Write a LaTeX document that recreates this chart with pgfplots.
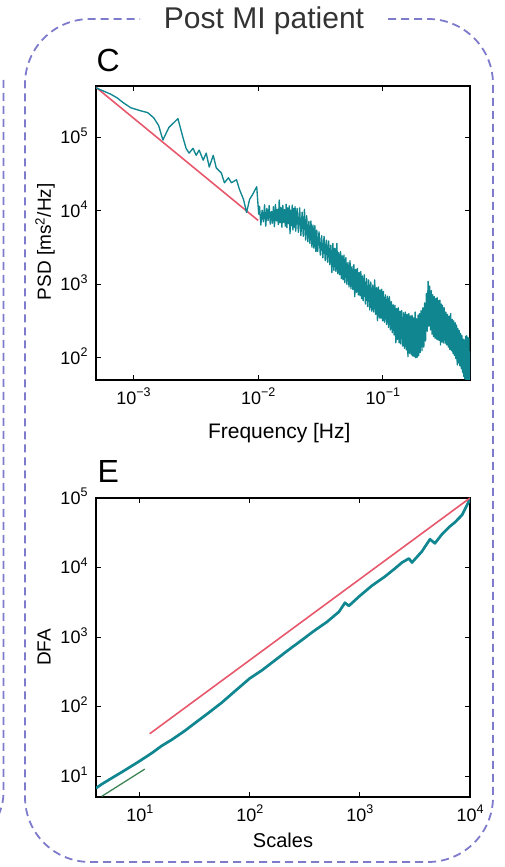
\documentclass[border=0pt]{standalone}
\usepackage{pgfplots}
\pgfplotsset{compat=1.18}
\usepackage{fontspec}
\setmainfont{Liberation Sans}
\definecolor{tealc}{RGB}{16,134,144}
\definecolor{redc}{RGB}{232,88,108}
\definecolor{greenc}{RGB}{62,132,86}
\definecolor{lav}{RGB}{126,122,204}
\newcommand{\tl}[1]{10\smash{\raisebox{0.4em}{\fontsize{12.5}{12.5}\selectfont #1}}}
\pgfplotsset{
  myax/.style={
    scale only axis, width=374pt,
    xminorticks=false, yminorticks=false,
    tick align=inside, major tick length=5pt,
    axis line style={line width=2pt},
    major tick style={black, line width=0.9pt},
    ticklabel style={font=\fontsize{18}{20}\selectfont},
    xticklabel style={yshift=-8pt},
    yticklabel style={xshift=-5pt},
    xlabel style={font=\fontsize{21}{24}\selectfont, anchor=center},
    ylabel style={font=\fontsize{19}{22}\selectfont, anchor=center},
  }
}
\begin{document}
\begin{tikzpicture}[x=1pt,y=1pt]
\useasboundingbox (0,0) rectangle (504,867);
% dashed frames
\draw[lav, line width=1.8pt, dash pattern=on 8pt off 5pt, rounded corners=65pt]
  (388,848) -- (493,848) -- (493,5) -- (25,5) -- (25,848) -- (140,848);
\draw[lav, line width=1.8pt, dash pattern=on 8pt off 5pt]
  (3.5,787) -- (3.5,75) to[out=-90,in=70] (-6,40);
\node[anchor=base, font=\fontsize{30}{34}\selectfont, text=black!80] at (264,838) {Post MI patient};
\node[anchor=base west, font=\fontsize{32}{36}\selectfont] at (93,795) {C};
\node[anchor=base west, font=\fontsize{32}{36}\selectfont] at (94,384) {E};

% ---------- PSD ----------
\begin{loglogaxis}[myax, at={(96pt,487pt)}, anchor=south west, height=294pt,
  xmin=5e-4, xmax=0.5, ymin=50, ymax=5e5,
  xtick={1e-3,1e-2,1e-1}, xticklabels={\tl{−3},\tl{−2},\tl{−1}},
  ytick={1e2,1e3,1e4,1e5}, yticklabels={\tl{2},\tl{3},\tl{4},\tl{5}},
  xlabel={Frequency [Hz]}, ylabel={PSD [ms\textsuperscript{2}/Hz]},
  xlabel style={at={(axis description cs:0.49,-0.18)}},
  ylabel style={at={(axis description cs:-0.136,0.47)}},
]
\addplot[redc, line width=1.6pt] coordinates {(5e-4,4.8e5) (1e-2,7.4e3)};
\addplot[tealc, line width=1.35pt, line join=round] coordinates {
(5.0e-4,4.8e5) (5.1e-4,4.65e5) (6.5e-4,3.9e5) (7.4e-4,3.44e5) (8.3e-4,2.95e5)
(9.5e-4,2.53e5) (1.14e-3,2.30e5) (1.30e-3,2.17e5) (1.45e-3,1.85e5) (1.59e-3,1.45e5)
(1.72e-3,9.2e4) (1.92e-3,1.36e5) (2.27e-3,1.80e5) (2.49e-3,1.0e5) (2.64e-3,7.1e4)
(2.79e-3,6.1e4) (3.0e-3,7.1e4) (3.18e-3,5.7e4) (3.36e-3,6.7e4) (3.62e-3,4.9e4)
(3.83e-3,6.1e4) (4.05e-3,3.95e4) (4.36e-3,5.7e4) (4.61e-3,3.84e4) (5.06e-3,3.29e4)
(5.36e-3,2.41e4) (5.77e-3,2.82e4) (6.10e-3,2.41e4) (6.70e-3,2.65e4) (7.08e-3,1.95e4)
(7.63e-3,1.43e4) (8.07e-3,9.5e3) (8.53e-3,1.43e4) (9.0e-3,1.66e4) (9.73e-3,2.13e4)
(1.01e-2,9.0e3)
(0.01025,1.15e4) (0.0105,6.4e3) (0.01075,1.02e4) (0.0110,7.1e3) (0.01125,1.21e4)
(0.0115,6.2e3) (0.01175,1.08e4) (0.0120,7.4e3) (0.01225,1.18e4) (0.0125,6.6e3)
(0.01275,9.8e3) (0.0130,6.8e3) (0.01325,1.14e4) (0.0135,6.1e3) (0.01375,1.22e4)
(0.0140,7.3e3) (0.01425,1.05e4) (0.0145,6.5e3) (0.01475,1.40e4) (0.0150,6.9e3)
(0.01525,1.12e4) (0.0155,6.0e3) (0.01575,1.19e4) (0.0160,7.0e3) (0.01625,1.04e4)
(0.0165,6.2e3) (0.01675,1.23e4) (0.0170,5.9e3) (0.01725,1.10e4) (0.0175,6.7e3)
(0.01775,1.17e4) (0.0180,4.9e3) (0.01825,1.02e4) (0.0185,6.3e3) (0.01875,1.20e4)
(0.0190,5.5e3) (0.01925,1.08e4) (0.0195,6.0e3) (0.01975,1.14e4) (0.0200,5.3e3)
(0.0205,1.08e4) (0.0210,5.1e3) (0.0215,1.10e4) (0.0220,4.6e3) (0.0225,9.6e3)
(0.0230,4.5e3) (0.0235,1.05e4) (0.0240,4.0e3) (0.0245,8.6e3) (0.0250,3.8e3)
(0.0255,7.2e3) (0.0260,3.6e3) (0.0265,7.3e3) (0.0270,3.2e3) (0.0275,6.4e3)
(0.0280,3.1e3) (0.0285,6.3e3) (0.0290,2.8e3) (0.0295,5.5e3) (0.0300,2.8e3)
(0.03075,5.2e3) (0.0315,2.5e3) (0.03225,4.6e3) (0.0330,2.3e3) (0.03375,4.5e3)
(0.0345,2.1e3) (0.03525,4.0e3) (0.0360,2.0e3) (0.03675,3.9e3) (0.0375,1.85e3)
(0.03825,3.4e3) (0.0390,1.45e3) (0.03975,3.6e3) (0.0405,1.55e3) (0.04125,3.1e3)
(0.0420,1.5e3) (0.04275,3.6e3) (0.0435,1.4e3) (0.04425,2.7e3) (0.0450,1.35e3)
(0.04575,2.8e3) (0.0465,1.2e3) (0.04725,2.45e3) (0.0480,1.15e3) (0.04875,2.5e3)
(0.0495,1.05e3)
(0.0505,2.3e3) (0.0515,1.0e3) (0.0525,2.0e3) (0.0535,920) (0.0545,2.1e3)
(0.0555,870) (0.0565,1.75e3) (0.0575,850) (0.0585,1.85e3) (0.0595,680)
(0.0605,1.6e3) (0.0615,780) (0.0625,1.65e3) (0.0635,720) (0.0645,1.45e3)
(0.0655,700) (0.0665,1.5e3) (0.0675,640) (0.0685,1.3e3) (0.0695,600)
(0.0710,1.35e3) (0.0725,540) (0.0740,1.2e3) (0.0755,500) (0.0770,1.15e3)
(0.0785,450) (0.0800,1.08e3) (0.0815,430) (0.0830,980) (0.0845,420)
(0.0860,1.15e3) (0.0875,390) (0.0890,900) (0.0905,320) (0.0920,920)
(0.0935,350) (0.0950,840) (0.0965,345) (0.0980,860) (0.0995,320)
(0.101,800) (0.103,305) (0.105,720) (0.107,285) (0.109,690)
(0.111,260) (0.113,680) (0.115,240) (0.117,580) (0.119,220)
(0.121,530) (0.123,205) (0.125,520) (0.127,160) (0.129,470)
(0.131,178) (0.133,480) (0.135,160) (0.137,430) (0.139,155)
(0.1415,440) (0.1440,145) (0.1465,410) (0.1490,135) (0.1515,420)
(0.1540,128) (0.1565,390) (0.1590,104) (0.1615,400) (0.1640,115)
(0.1665,370) (0.1690,110) (0.1715,380) (0.1740,106) (0.1765,350)
(0.1790,104) (0.1815,420) (0.1840,100) (0.1865,340) (0.1890,102)
(0.1915,380) (0.1940,108) (0.1965,400) (0.1990,118)
(0.2025,440) (0.2060,125) (0.2095,480) (0.2130,140) (0.2165,560)
(0.2200,170) (0.2235,750) (0.2270,230) (0.2305,1100) (0.2340,270)
(0.2375,950) (0.2410,240) (0.2445,820) (0.2480,210) (0.2515,720)
(0.2550,195) (0.2585,680) (0.2620,185) (0.2655,640) (0.2690,180)
(0.2725,660) (0.2760,176) (0.2795,600) (0.2830,172) (0.2865,610)
(0.2900,150) (0.2935,540) (0.2970,165) (0.3005,520)
(0.305,160) (0.310,480) (0.315,158) (0.320,420) (0.325,150)
(0.330,390) (0.335,140) (0.340,370) (0.345,130) (0.350,400)
(0.355,125) (0.360,335) (0.365,115) (0.370,320) (0.375,108)
(0.380,300) (0.385,98) (0.390,280) (0.395,80) (0.400,250)
(0.405,85) (0.410,235) (0.415,78) (0.420,215) (0.425,72)
(0.430,200) (0.435,64) (0.440,180) (0.445,56) (0.450,175)
(0.455,52) (0.460,195) (0.465,50) (0.470,200) (0.475,48)
(0.480,190) (0.485,46) (0.490,185) (0.495,48) (0.500,120)
};
\end{loglogaxis}

% ---------- DFA ----------
\begin{loglogaxis}[myax, at={(96pt,70pt)}, anchor=south west, height=299pt,
  xmin=4, xmax=1e4, ymin=5, ymax=1e5,
  xtick={1e1,1e2,1e3,1e4}, xticklabels={\tl{1},\tl{2},\tl{3},\tl{4}},
  ytick={1e1,1e2,1e3,1e4,1e5}, yticklabels={\tl{1},\tl{2},\tl{3},\tl{4},\tl{5}},
  xlabel={Scales}, ylabel={DFA},
  xlabel style={at={(axis description cs:0.5,-0.144)}, font=\fontsize{20}{24}\selectfont},
  ylabel style={at={(axis description cs:-0.139,0.5)}},
]
\addplot[tealc, line width=2.7pt, line join=round] coordinates {
(4.0,6.7) (4.52,7.66) (5.56,9.35) (6.86,11.4) (8.46,14.0) (10,16.5) (12.9,21.5)
(15.8,27.2) (19.5,33.3) (25.7,44.9) (33.0,60.7) (42.4,81.8) (55.6,114) (74.6,171)
(100,255) (129,333) (165,449) (217,627) (297,906) (382,1222) (501,1648)
(644,2301) (731,3112) (794,2812) (1000,3926) (1285,5483) (1687,7413) (2080,9683)
(2410,11800) (2789,13490) (2970,11800) (3660,17060) (4330,25470) (4800,22280)
(5560,30060) (6440,38000) (7310,44870) (8450,56750) (9400,79200) (10000,96800)
};
\addplot[redc, line width=1.6pt] coordinates {(12.3,40.6) (1e4,1e5)};
\addplot[greenc, line width=1.3pt] coordinates {(4.5,5.1) (11.1,12.6)};
\end{loglogaxis}
\end{tikzpicture}
\end{document}
